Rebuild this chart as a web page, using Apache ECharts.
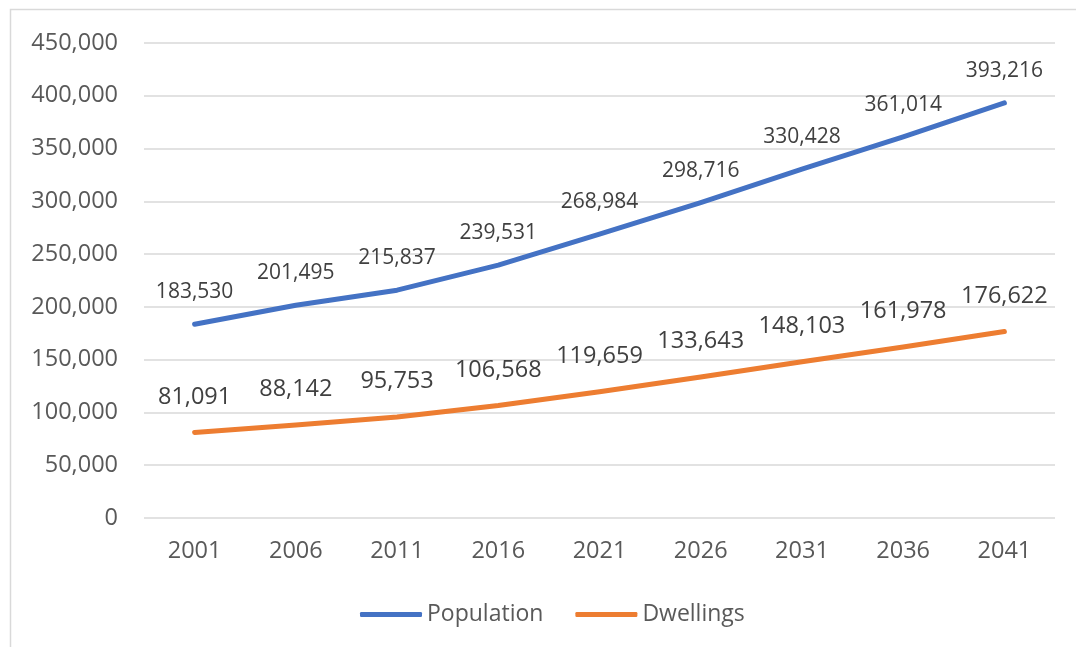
<!DOCTYPE html>
<html>
<head>
<meta charset="utf-8">
<script src="https://cdn.jsdelivr.net/npm/echarts@6/dist/echarts.min.js"></script>
<style>
html,body{margin:0;padding:0;background:#fff;}
#chart{width:1076px;height:647px;}
</style>
</head>
<body>
<div id="chart"></div>
<script>
const years = ['2001','2006','2011','2016','2021','2026','2031','2036','2041'];
const population = [183530, 201495, 215837, 239531, 268984, 298716, 330428, 361014, 393216];
const dwellings = [81091, 88142, 95753, 106568, 119659, 133643, 148103, 161978, 176622];

const FONT = '"Open Sans", sans-serif';
const TXT = '#595959';
const fmt = v => Number(v).toLocaleString('en-US');

const chart = echarts.init(document.getElementById('chart'), null, {renderer:'canvas'});
chart.setOption({
  backgroundColor: '#fff',
  animation: false,
  graphic: [{
    type: 'rect', silent: true, z: -1,
    shape: {x: 10.5, y: 9.5, width: 1200, height: 800},
    style: {fill: 'none', stroke: '#d9d9d9', lineWidth: 1.5}
  }],
  grid: {left: 144, right: 21, top: 43, bottom: 129, containLabel: false},
  legend: {
    data: ['Population', 'Dwellings'],
    bottom: 16, left: 355,
    icon: 'roundRect',
    itemWidth: 62, itemHeight: 5, itemGap: 32,
    textStyle: {fontFamily: FONT, fontSize: 23, color: TXT}
  },
  xAxis: {
    type: 'category', data: years, boundaryGap: true,
    axisLine: {show: false}, axisTick: {show: false},
    axisLabel: {fontFamily: FONT, fontSize: 23.5, color: TXT, margin: 21}
  },
  yAxis: {
    type: 'value', min: 0, max: 450000, interval: 50000,
    axisLine: {show: false}, axisTick: {show: false},
    splitLine: {lineStyle: {color: '#d9d9d9', width: 1.5}},
    axisLabel: {fontFamily: FONT, fontSize: 23.5, color: TXT, margin: 26, formatter: fmt}
  },
  series: [
    {
      name: 'Population', type: 'line', data: population,
      showSymbol: true, symbol: 'circle', symbolSize: 1,
      lineStyle: {color: '#4472C4', width: 5, cap: 'round', join: 'round'},
      itemStyle: {color: '#4472C4'},
      label: {show: true, position: 'top', distance: 21, fontFamily: FONT, fontSize: 21, color: '#404040', formatter: p => fmt(p.value)}
    },
    {
      name: 'Dwellings', type: 'line', data: dwellings,
      showSymbol: true, symbol: 'circle', symbolSize: 1,
      lineStyle: {color: '#ED7D31', width: 5, cap: 'round', join: 'round'},
      itemStyle: {color: '#ED7D31'},
      label: {show: true, position: 'top', distance: 23, fontFamily: FONT, fontSize: 23.5, color: '#404040', formatter: p => fmt(p.value)}
    }
  ]
});
</script>
</body>
</html>
